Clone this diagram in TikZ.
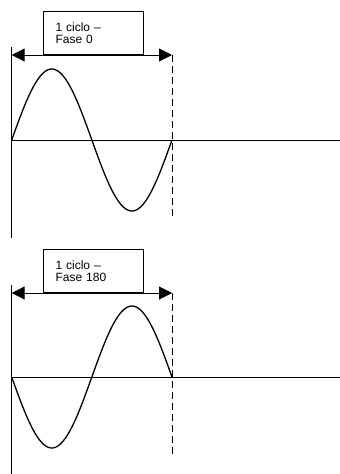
\documentclass[tikz,border=0pt]{standalone}
\usepackage{fontspec}
\setmainfont{Liberation Sans}
\usetikzlibrary{arrows.meta,positioning}

\begin{document}
\begin{tikzpicture}[
    x=1pt, y=-1pt,
    axis/.style={line width=1pt},
    wave/.style={line width=1.3pt, domain=0:360, samples=90, smooth},
    period/.style={line width=1pt, {Triangle[length=13pt,width=13pt]}-{Triangle[length=13pt,width=13pt]}},
    marker/.style={line width=1pt, dash pattern=on 7pt off 4pt},
    label/.style={rectangle, draw, line width=1pt, fill=white, minimum width=100pt, minimum height=43pt,
        text width=76pt, align=left, font=\fontsize{12}{12.5}\selectfont, anchor=south west}]
    \useasboundingbox (0,0) rectangle (340,474);
    % fase 0
    \coordinate (top0) at (11.7,47);
    \coordinate (bot0) at (11.7,238);
    \coordinate (ax0) at (11.7,140);
    \coordinate (axend0) at (340,140);
    \coordinate (start0) at (11.7,55);
    \coordinate (stop0) at (172,55);
    \coordinate (dash0) at (172,217);
    \draw[axis, line width=1.3pt] (top0) -- (bot0);
    \draw[axis] (ax0) -- (axend0);
    \draw[marker] (stop0) -- (dash0);
    \draw[wave] plot ({11.7+\x/360*160.3}, {140-71*sin(\x)});
    \node[label] (cycle0) at (43,55) {1 ciclo --\\Fase 0};
    \draw[period] (start0) -- (stop0);
    % fase 180
    \coordinate (top1) at (11.7,285);
    \coordinate (bot1) at (11.7,474);
    \coordinate (ax1) at (11.7,377);
    \coordinate (axend1) at (340,377);
    \coordinate (start1) at (11.7,293);
    \coordinate (stop1) at (172,293);
    \coordinate (dash1) at (172,455);
    \draw[axis, line width=1.3pt] (top1) -- (bot1);
    \draw[axis] (ax1) -- (axend1);
    \draw[marker] (stop1) -- (dash1);
    \draw[wave] plot ({11.7+\x/360*160.3}, {377+71*sin(\x)});
    \node[label] (cycle1) at (43,293) {1 ciclo --\\Fase 180};
    \draw[period] (start1) -- (stop1);
\end{tikzpicture}
\end{document}
